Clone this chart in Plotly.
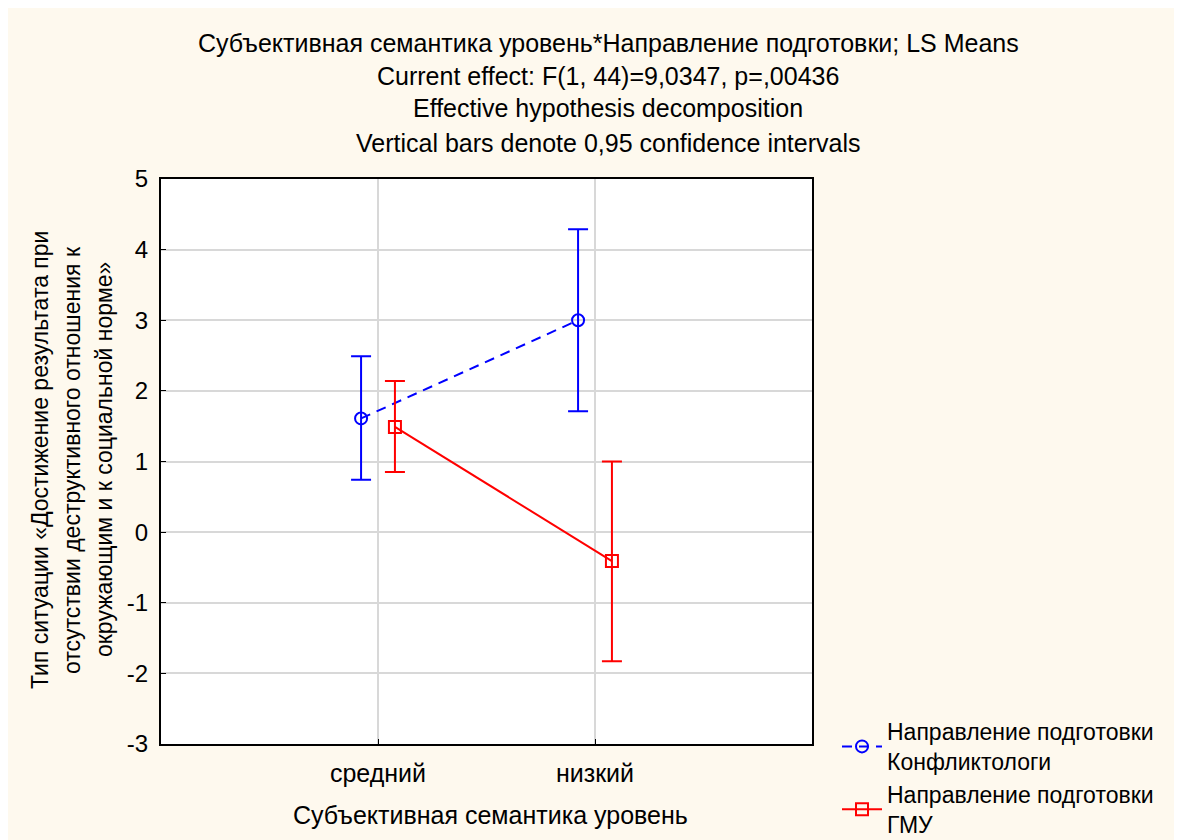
import plotly.graph_objects as go

# data
levels = ["средний", "низкий"]
level_pos = [1, 2]

konf_mean = [1.61, 3.00]
konf_upper = [2.49, 4.29]
konf_lower = [0.74, 1.71]

gmu_mean = [1.49, -0.41]
gmu_upper = [2.14, 1.00]
gmu_lower = [0.85, -1.83]

y_ticks = [-3, -2, -1, 0, 1, 2, 3, 4, 5]
y_ticktext = ["-3", "-2", "-1", "0", "1", "2", "3", "4", "5"]

title_lines = [
    "Субъективная семантика уровень*Направление подготовки; LS Means",
    "Current effect: F(1, 44)=9,0347, p=,00436",
    "Effective hypothesis decomposition",
    "Vertical bars denote 0,95 confidence intervals",
]
ytitle_lines = [
    "Тип ситуации «Достижение результата при",
    "отсутствии деструктивного отношения к",
    "окружающим и к социальной норме»",
]
xtitle = "Субъективная семантика уровень"

FONT = "Liberation Sans, Arial, sans-serif"
BLUE = "#0000FF"
RED = "#FF0000"
offset = 0.078

# plot area in figure pixels
L, T, W, H = 153, 171, 651, 565


def px_x(x):
    return (x - L) / W


def px_y(y):
    return (T + H - y) / H


def err(mean, upper, lower):
    plus = [u - m for u, m in zip(upper, mean)]
    minus = [m - l for m, l in zip(mean, lower)]
    return plus, minus


fig = go.Figure()

kp, km = err(konf_mean, konf_upper, konf_lower)
fig.add_trace(go.Scatter(
    x=[p - offset for p in level_pos], y=konf_mean,
    mode="lines+markers",
    name="Направление подготовки<br>Конфликтологи",
    line=dict(color=BLUE, width=2, dash="10px,7px"),
    marker=dict(symbol="circle-open", size=12, color=BLUE, line=dict(width=2)),
    error_y=dict(type="data", array=kp, arrayminus=km, color=BLUE, thickness=2, width=10),
))

gp, gm = err(gmu_mean, gmu_upper, gmu_lower)
fig.add_trace(go.Scatter(
    x=[p + offset for p in level_pos], y=gmu_mean,
    mode="lines+markers",
    name="Направление подготовки<br>ГМУ",
    line=dict(color=RED, width=2),
    marker=dict(symbol="square-open", size=12, color=RED, line=dict(width=2)),
    error_y=dict(type="data", array=gp, arrayminus=gm, color=RED, thickness=2, width=10),
))

annotations = []
for i, t in enumerate(title_lines):
    annotations.append(dict(
        text=t, xref="paper", yref="paper", x=px_x(600), y=px_y([35, 68, 100, 135][i]),
        xanchor="center", yanchor="middle", showarrow=False,
        font=dict(size=25, color="black", family=FONT),
    ))
for i, t in enumerate(ytitle_lines):
    annotations.append(dict(
        text=t, xref="paper", yref="paper", x=px_x([32, 64, 96][i]), y=px_y(452),
        xanchor="center", yanchor="middle", showarrow=False, textangle=-90,
        font=dict(size=23, color="black", family=FONT),
    ))
annotations.append(dict(
    text=xtitle, xref="paper", yref="paper", x=px_x(482), y=px_y(807),
    xanchor="center", yanchor="middle", showarrow=False,
    font=dict(size=25, color="black", family=FONT),
))

fig.update_layout(
    width=1182, height=840,
    margin=dict(l=L, r=1182 - L - W, t=T, b=840 - T - H, autoexpand=False),
    paper_bgcolor="#FEF9EE",
    plot_bgcolor="white",
    font=dict(family=FONT, size=24, color="black"),
    showlegend=True,
    legend=dict(
        x=px_x(829), y=px_y(702), xanchor="left", yanchor="top",
        bgcolor="rgba(0,0,0,0)", font=dict(size=23, family=FONT),
        itemwidth=40, tracegroupgap=0,
    ),
    annotations=annotations,
)

fig.update_xaxes(
    range=[0, 3], tickvals=level_pos, ticktext=levels,
    showgrid=True, gridcolor="#D8D8D8", gridwidth=1.5,
    showline=True, linecolor="black", linewidth=2, mirror=True,
    ticks="inside", ticklen=5, tickcolor="black", zeroline=False,
    tickfont=dict(size=25), ticklabelstandoff=6,
)
fig.update_yaxes(
    range=[-3, 5], tickvals=y_ticks, ticktext=y_ticktext,
    showgrid=True, gridcolor="#D8D8D8", gridwidth=1.5,
    showline=True, linecolor="black", linewidth=2, mirror=True,
    ticks="inside", ticklen=5, tickcolor="black", zeroline=False,
    tickfont=dict(size=24), ticklabelstandoff=6,
)

fig.write_html("out.html")
